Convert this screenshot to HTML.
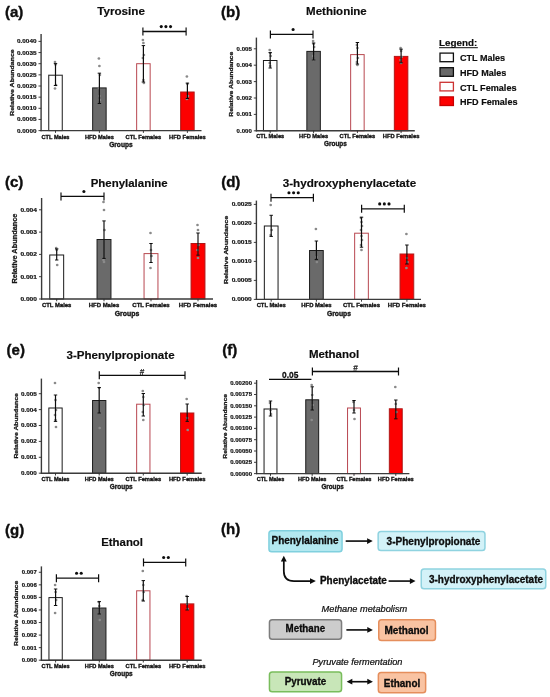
<!DOCTYPE html>
<html><head><meta charset="utf-8"><style>
html,body{margin:0;padding:0;background:#fff;}
svg{display:block;font-family:"Liberation Sans", sans-serif;}
</style></head><body>
<svg width="550" height="697" viewBox="0 0 550 697">
<defs><filter id="bl" filterUnits="userSpaceOnUse" x="0" y="0" width="550" height="697"><feGaussianBlur stdDeviation="0.3"/></filter></defs>
<rect width="550" height="697" fill="#fff"/>
<g filter="url(#bl)">
<rect x="48.75" y="75.20" width="13.50" height="55.40" fill="#ffffff" stroke="#1a1a1a" stroke-width="1.0"/>
<rect x="92.65" y="87.90" width="13.50" height="42.70" fill="#6a6a6a" stroke="#1e1e1e" stroke-width="1.0"/>
<rect x="136.65" y="63.70" width="13.50" height="66.90" fill="#ffffff" stroke="#b84850" stroke-width="1.0"/>
<rect x="180.65" y="92.00" width="13.50" height="38.60" fill="#fd0000" stroke="#b01818" stroke-width="1.0"/>
<circle cx="55.00" cy="62.00" r="1.35" fill="#8a8a8a"/>
<circle cx="55.50" cy="64.50" r="1.35" fill="#8a8a8a"/>
<circle cx="56.00" cy="85.00" r="1.35" fill="#8a8a8a"/>
<circle cx="55.00" cy="88.50" r="1.35" fill="#8a8a8a"/>
<line x1="55.50" y1="63.60" x2="55.50" y2="85.50" stroke="#111" stroke-width="1.2"/>
<line x1="53.80" y1="63.60" x2="57.20" y2="63.60" stroke="#111" stroke-width="1.0"/>
<line x1="53.80" y1="85.50" x2="57.20" y2="85.50" stroke="#111" stroke-width="1.0"/>
<circle cx="98.90" cy="58.50" r="1.35" fill="#8a8a8a"/>
<circle cx="99.40" cy="66.00" r="1.35" fill="#8a8a8a"/>
<circle cx="99.90" cy="75.00" r="1.35" fill="#8a8a8a"/>
<circle cx="98.90" cy="88.00" r="1.35" fill="#8a8a8a"/>
<circle cx="99.40" cy="96.00" r="1.35" fill="#8a8a8a"/>
<circle cx="99.90" cy="100.00" r="1.35" fill="#8a8a8a"/>
<line x1="99.40" y1="73.20" x2="99.40" y2="103.50" stroke="#111" stroke-width="1.2"/>
<line x1="97.70" y1="73.20" x2="101.10" y2="73.20" stroke="#111" stroke-width="1.0"/>
<line x1="97.70" y1="103.50" x2="101.10" y2="103.50" stroke="#111" stroke-width="1.0"/>
<circle cx="142.90" cy="40.00" r="1.35" fill="#8a8a8a"/>
<circle cx="143.40" cy="43.00" r="1.35" fill="#8a8a8a"/>
<circle cx="143.90" cy="55.00" r="1.35" fill="#8a8a8a"/>
<circle cx="142.90" cy="58.00" r="1.35" fill="#8a8a8a"/>
<circle cx="143.40" cy="80.00" r="1.35" fill="#8a8a8a"/>
<circle cx="143.90" cy="83.00" r="1.35" fill="#8a8a8a"/>
<line x1="143.40" y1="45.60" x2="143.40" y2="82.00" stroke="#111" stroke-width="1.2"/>
<line x1="141.70" y1="45.60" x2="145.10" y2="45.60" stroke="#111" stroke-width="1.0"/>
<line x1="141.70" y1="82.00" x2="145.10" y2="82.00" stroke="#111" stroke-width="1.0"/>
<circle cx="186.90" cy="76.50" r="1.35" fill="#8a8a8a"/>
<circle cx="187.40" cy="84.00" r="1.35" fill="#8a8a8a"/>
<circle cx="187.90" cy="96.00" r="1.35" fill="#8a8a8a"/>
<circle cx="186.90" cy="99.00" r="1.35" fill="#8a8a8a"/>
<line x1="187.40" y1="83.10" x2="187.40" y2="98.50" stroke="#111" stroke-width="1.2"/>
<line x1="185.70" y1="83.10" x2="189.10" y2="83.10" stroke="#111" stroke-width="1.0"/>
<line x1="185.70" y1="98.50" x2="189.10" y2="98.50" stroke="#111" stroke-width="1.0"/>
<line x1="41.10" y1="34.00" x2="41.10" y2="131.20" stroke="#3a3a3a" stroke-width="1.4"/>
<line x1="40.50" y1="130.60" x2="201.50" y2="130.60" stroke="#3a3a3a" stroke-width="1.4"/>
<line x1="38.50" y1="130.60" x2="41.10" y2="130.60" stroke="#2a2a2a" stroke-width="0.9"/>
<text x="17.00" y="132.55" font-size="5.9" font-weight="bold" text-anchor="start" fill="#151515" textLength="19.49" lengthAdjust="spacingAndGlyphs" stroke="#151515" stroke-width="0.2">0.0000</text>
<line x1="38.50" y1="119.45" x2="41.10" y2="119.45" stroke="#2a2a2a" stroke-width="0.9"/>
<text x="17.00" y="121.40" font-size="5.9" font-weight="bold" text-anchor="start" fill="#151515" textLength="19.49" lengthAdjust="spacingAndGlyphs" stroke="#151515" stroke-width="0.2">0.0005</text>
<line x1="38.50" y1="108.30" x2="41.10" y2="108.30" stroke="#2a2a2a" stroke-width="0.9"/>
<text x="17.00" y="110.25" font-size="5.9" font-weight="bold" text-anchor="start" fill="#151515" textLength="19.49" lengthAdjust="spacingAndGlyphs" stroke="#151515" stroke-width="0.2">0.0010</text>
<line x1="38.50" y1="97.15" x2="41.10" y2="97.15" stroke="#2a2a2a" stroke-width="0.9"/>
<text x="17.00" y="99.10" font-size="5.9" font-weight="bold" text-anchor="start" fill="#151515" textLength="19.49" lengthAdjust="spacingAndGlyphs" stroke="#151515" stroke-width="0.2">0.0015</text>
<line x1="38.50" y1="86.00" x2="41.10" y2="86.00" stroke="#2a2a2a" stroke-width="0.9"/>
<text x="17.00" y="87.95" font-size="5.9" font-weight="bold" text-anchor="start" fill="#151515" textLength="19.49" lengthAdjust="spacingAndGlyphs" stroke="#151515" stroke-width="0.2">0.0020</text>
<line x1="38.50" y1="74.85" x2="41.10" y2="74.85" stroke="#2a2a2a" stroke-width="0.9"/>
<text x="17.00" y="76.80" font-size="5.9" font-weight="bold" text-anchor="start" fill="#151515" textLength="19.49" lengthAdjust="spacingAndGlyphs" stroke="#151515" stroke-width="0.2">0.0025</text>
<line x1="38.50" y1="63.70" x2="41.10" y2="63.70" stroke="#2a2a2a" stroke-width="0.9"/>
<text x="17.00" y="65.65" font-size="5.9" font-weight="bold" text-anchor="start" fill="#151515" textLength="19.49" lengthAdjust="spacingAndGlyphs" stroke="#151515" stroke-width="0.2">0.0030</text>
<line x1="38.50" y1="52.55" x2="41.10" y2="52.55" stroke="#2a2a2a" stroke-width="0.9"/>
<text x="17.00" y="54.50" font-size="5.9" font-weight="bold" text-anchor="start" fill="#151515" textLength="19.49" lengthAdjust="spacingAndGlyphs" stroke="#151515" stroke-width="0.2">0.0035</text>
<line x1="38.50" y1="41.40" x2="41.10" y2="41.40" stroke="#2a2a2a" stroke-width="0.9"/>
<text x="17.00" y="43.35" font-size="5.9" font-weight="bold" text-anchor="start" fill="#151515" textLength="19.49" lengthAdjust="spacingAndGlyphs" stroke="#151515" stroke-width="0.2">0.0040</text>
<line x1="55.50" y1="130.60" x2="55.50" y2="132.90" stroke="#2a2a2a" stroke-width="0.9"/>
<text x="41.50" y="138.50" font-size="5.75" font-weight="bold" text-anchor="start" fill="#151515" textLength="27.99" lengthAdjust="spacingAndGlyphs" stroke="#151515" stroke-width="0.35">CTL Males</text>
<line x1="99.40" y1="130.60" x2="99.40" y2="132.90" stroke="#2a2a2a" stroke-width="0.9"/>
<text x="84.90" y="138.50" font-size="5.75" font-weight="bold" text-anchor="start" fill="#151515" textLength="29.01" lengthAdjust="spacingAndGlyphs" stroke="#151515" stroke-width="0.35">HFD Males</text>
<line x1="143.40" y1="130.60" x2="143.40" y2="132.90" stroke="#2a2a2a" stroke-width="0.9"/>
<text x="125.60" y="138.50" font-size="5.75" font-weight="bold" text-anchor="start" fill="#151515" textLength="35.61" lengthAdjust="spacingAndGlyphs" stroke="#151515" stroke-width="0.35">CTL Females</text>
<line x1="187.40" y1="130.60" x2="187.40" y2="132.90" stroke="#2a2a2a" stroke-width="0.9"/>
<text x="169.10" y="138.50" font-size="5.75" font-weight="bold" text-anchor="start" fill="#151515" textLength="36.60" lengthAdjust="spacingAndGlyphs" stroke="#151515" stroke-width="0.35">HFD Females</text>
<text x="109.15" y="146.60" font-size="6.5" font-weight="bold" text-anchor="start" fill="#151515" textLength="23.50" lengthAdjust="spacingAndGlyphs" stroke="#151515" stroke-width="0.35">Groups</text>
<text x="0.00" y="0.00" font-size="6.05" font-weight="bold" text-anchor="middle" fill="#151515" textLength="66.61" lengthAdjust="spacingAndGlyphs" stroke="#151515" stroke-width="0.25" transform="translate(13.80,82.60) rotate(-90)">Relative Abundance</text>
<line x1="142.90" y1="31.50" x2="186.10" y2="31.50" stroke="#111" stroke-width="1.3"/>
<line x1="142.90" y1="27.50" x2="142.90" y2="35.50" stroke="#111" stroke-width="1.2"/>
<line x1="186.10" y1="27.50" x2="186.10" y2="35.50" stroke="#111" stroke-width="1.2"/>
<circle cx="161.25" cy="26.60" r="1.55" fill="#111"/>
<circle cx="165.90" cy="26.60" r="1.55" fill="#111"/>
<circle cx="170.55" cy="26.60" r="1.55" fill="#111"/>
<text x="97.20" y="14.80" font-size="11.6" font-weight="bold" text-anchor="start" fill="#0a0a0a" textLength="47.79" lengthAdjust="spacingAndGlyphs" stroke="#0a0a0a" stroke-width="0.15">Tyrosine</text>
<text x="5.00" y="16.70" font-size="15" font-weight="bold" text-anchor="start" fill="#0a0a0a" stroke="#0a0a0a" stroke-width="0.35">(a)</text>
<rect x="263.45" y="60.50" width="13.50" height="70.30" fill="#ffffff" stroke="#1a1a1a" stroke-width="1.0"/>
<rect x="306.85" y="51.40" width="13.50" height="79.40" fill="#6a6a6a" stroke="#1e1e1e" stroke-width="1.0"/>
<rect x="350.65" y="54.60" width="13.50" height="76.20" fill="#ffffff" stroke="#b84850" stroke-width="1.0"/>
<rect x="394.35" y="56.40" width="13.50" height="74.40" fill="#fd0000" stroke="#b01818" stroke-width="1.0"/>
<circle cx="269.70" cy="50.00" r="1.35" fill="#8a8a8a"/>
<circle cx="270.20" cy="53.00" r="1.35" fill="#8a8a8a"/>
<circle cx="270.70" cy="56.00" r="1.35" fill="#8a8a8a"/>
<circle cx="269.70" cy="63.00" r="1.35" fill="#8a8a8a"/>
<circle cx="270.20" cy="66.00" r="1.35" fill="#8a8a8a"/>
<line x1="270.20" y1="52.60" x2="270.20" y2="68.00" stroke="#111" stroke-width="1.2"/>
<line x1="268.50" y1="52.60" x2="271.90" y2="52.60" stroke="#111" stroke-width="1.0"/>
<line x1="268.50" y1="68.00" x2="271.90" y2="68.00" stroke="#111" stroke-width="1.0"/>
<circle cx="313.10" cy="41.00" r="1.35" fill="#8a8a8a"/>
<circle cx="313.60" cy="44.00" r="1.35" fill="#8a8a8a"/>
<circle cx="314.10" cy="47.00" r="1.35" fill="#8a8a8a"/>
<circle cx="313.10" cy="56.00" r="1.35" fill="#8a8a8a"/>
<circle cx="313.60" cy="60.00" r="1.35" fill="#8a8a8a"/>
<line x1="313.60" y1="43.00" x2="313.60" y2="60.00" stroke="#111" stroke-width="1.2"/>
<line x1="311.90" y1="43.00" x2="315.30" y2="43.00" stroke="#111" stroke-width="1.0"/>
<line x1="311.90" y1="60.00" x2="315.30" y2="60.00" stroke="#111" stroke-width="1.0"/>
<circle cx="356.90" cy="45.00" r="1.35" fill="#8a8a8a"/>
<circle cx="357.40" cy="48.00" r="1.35" fill="#8a8a8a"/>
<circle cx="357.90" cy="58.00" r="1.35" fill="#8a8a8a"/>
<circle cx="356.90" cy="62.00" r="1.35" fill="#8a8a8a"/>
<circle cx="357.40" cy="65.00" r="1.35" fill="#8a8a8a"/>
<line x1="357.40" y1="42.50" x2="357.40" y2="64.00" stroke="#111" stroke-width="1.2"/>
<line x1="355.70" y1="42.50" x2="359.10" y2="42.50" stroke="#111" stroke-width="1.0"/>
<line x1="355.70" y1="64.00" x2="359.10" y2="64.00" stroke="#111" stroke-width="1.0"/>
<circle cx="400.60" cy="48.00" r="1.35" fill="#8a8a8a"/>
<circle cx="401.10" cy="51.00" r="1.35" fill="#8a8a8a"/>
<circle cx="401.60" cy="57.00" r="1.35" fill="#8a8a8a"/>
<circle cx="400.60" cy="60.00" r="1.35" fill="#8a8a8a"/>
<circle cx="401.10" cy="63.00" r="1.35" fill="#8a8a8a"/>
<line x1="401.10" y1="49.20" x2="401.10" y2="62.80" stroke="#111" stroke-width="1.2"/>
<line x1="399.40" y1="49.20" x2="402.80" y2="49.20" stroke="#111" stroke-width="1.0"/>
<line x1="399.40" y1="62.80" x2="402.80" y2="62.80" stroke="#111" stroke-width="1.0"/>
<line x1="256.40" y1="37.60" x2="256.40" y2="131.40" stroke="#3a3a3a" stroke-width="1.4"/>
<line x1="255.80" y1="130.80" x2="414.80" y2="130.80" stroke="#3a3a3a" stroke-width="1.4"/>
<line x1="253.80" y1="130.80" x2="256.40" y2="130.80" stroke="#2a2a2a" stroke-width="0.9"/>
<text x="236.60" y="132.75" font-size="5.9" font-weight="bold" text-anchor="start" fill="#151515" textLength="15.18" lengthAdjust="spacingAndGlyphs" stroke="#151515" stroke-width="0.2">0.000</text>
<line x1="253.80" y1="114.40" x2="256.40" y2="114.40" stroke="#2a2a2a" stroke-width="0.9"/>
<text x="236.60" y="116.35" font-size="5.9" font-weight="bold" text-anchor="start" fill="#151515" textLength="15.18" lengthAdjust="spacingAndGlyphs" stroke="#151515" stroke-width="0.2">0.001</text>
<line x1="253.80" y1="98.00" x2="256.40" y2="98.00" stroke="#2a2a2a" stroke-width="0.9"/>
<text x="236.60" y="99.95" font-size="5.9" font-weight="bold" text-anchor="start" fill="#151515" textLength="15.18" lengthAdjust="spacingAndGlyphs" stroke="#151515" stroke-width="0.2">0.002</text>
<line x1="253.80" y1="81.60" x2="256.40" y2="81.60" stroke="#2a2a2a" stroke-width="0.9"/>
<text x="236.60" y="83.55" font-size="5.9" font-weight="bold" text-anchor="start" fill="#151515" textLength="15.18" lengthAdjust="spacingAndGlyphs" stroke="#151515" stroke-width="0.2">0.003</text>
<line x1="253.80" y1="65.20" x2="256.40" y2="65.20" stroke="#2a2a2a" stroke-width="0.9"/>
<text x="236.60" y="67.15" font-size="5.9" font-weight="bold" text-anchor="start" fill="#151515" textLength="15.18" lengthAdjust="spacingAndGlyphs" stroke="#151515" stroke-width="0.2">0.004</text>
<line x1="253.80" y1="48.80" x2="256.40" y2="48.80" stroke="#2a2a2a" stroke-width="0.9"/>
<text x="236.60" y="50.75" font-size="5.9" font-weight="bold" text-anchor="start" fill="#151515" textLength="15.18" lengthAdjust="spacingAndGlyphs" stroke="#151515" stroke-width="0.2">0.005</text>
<line x1="270.20" y1="130.80" x2="270.20" y2="133.10" stroke="#2a2a2a" stroke-width="0.9"/>
<text x="256.20" y="138.30" font-size="5.75" font-weight="bold" text-anchor="start" fill="#151515" textLength="27.99" lengthAdjust="spacingAndGlyphs" stroke="#151515" stroke-width="0.35">CTL Males</text>
<line x1="313.60" y1="130.80" x2="313.60" y2="133.10" stroke="#2a2a2a" stroke-width="0.9"/>
<text x="299.10" y="138.30" font-size="5.75" font-weight="bold" text-anchor="start" fill="#151515" textLength="29.01" lengthAdjust="spacingAndGlyphs" stroke="#151515" stroke-width="0.35">HFD Males</text>
<line x1="357.40" y1="130.80" x2="357.40" y2="133.10" stroke="#2a2a2a" stroke-width="0.9"/>
<text x="339.60" y="138.30" font-size="5.75" font-weight="bold" text-anchor="start" fill="#151515" textLength="35.61" lengthAdjust="spacingAndGlyphs" stroke="#151515" stroke-width="0.35">CTL Females</text>
<line x1="401.10" y1="130.80" x2="401.10" y2="133.10" stroke="#2a2a2a" stroke-width="0.9"/>
<text x="382.80" y="138.30" font-size="5.75" font-weight="bold" text-anchor="start" fill="#151515" textLength="36.60" lengthAdjust="spacingAndGlyphs" stroke="#151515" stroke-width="0.35">HFD Females</text>
<text x="324.00" y="145.90" font-size="6.5" font-weight="bold" text-anchor="start" fill="#151515" textLength="22.80" lengthAdjust="spacingAndGlyphs" stroke="#151515" stroke-width="0.35">Groups</text>
<text x="0.00" y="0.00" font-size="5.91" font-weight="bold" text-anchor="middle" fill="#151515" textLength="65.01" lengthAdjust="spacingAndGlyphs" stroke="#151515" stroke-width="0.25" transform="translate(233.00,84.30) rotate(-90)">Relative Abundance</text>
<line x1="270.40" y1="34.40" x2="313.00" y2="34.40" stroke="#111" stroke-width="1.3"/>
<line x1="270.40" y1="30.40" x2="270.40" y2="38.40" stroke="#111" stroke-width="1.2"/>
<line x1="313.00" y1="30.40" x2="313.00" y2="38.40" stroke="#111" stroke-width="1.2"/>
<circle cx="293.10" cy="29.50" r="1.55" fill="#111"/>
<text x="306.10" y="14.60" font-size="11.6" font-weight="bold" text-anchor="start" fill="#0a0a0a" textLength="60.67" lengthAdjust="spacingAndGlyphs" stroke="#0a0a0a" stroke-width="0.15">Methionine</text>
<text x="221.00" y="16.70" font-size="15" font-weight="bold" text-anchor="start" fill="#0a0a0a" stroke="#0a0a0a" stroke-width="0.35">(b)</text>
<rect x="49.75" y="255.00" width="13.90" height="44.00" fill="#ffffff" stroke="#1a1a1a" stroke-width="1.0"/>
<rect x="97.05" y="239.50" width="13.90" height="59.50" fill="#6a6a6a" stroke="#1e1e1e" stroke-width="1.0"/>
<rect x="144.05" y="253.60" width="13.90" height="45.40" fill="#ffffff" stroke="#b84850" stroke-width="1.0"/>
<rect x="191.05" y="243.50" width="13.90" height="55.50" fill="#fd0000" stroke="#b01818" stroke-width="1.0"/>
<circle cx="56.20" cy="248.00" r="1.35" fill="#8a8a8a"/>
<circle cx="56.70" cy="250.00" r="1.35" fill="#8a8a8a"/>
<circle cx="57.20" cy="265.00" r="1.35" fill="#8a8a8a"/>
<line x1="56.70" y1="248.90" x2="56.70" y2="260.00" stroke="#111" stroke-width="1.2"/>
<line x1="55.00" y1="248.90" x2="58.40" y2="248.90" stroke="#111" stroke-width="1.0"/>
<line x1="55.00" y1="260.00" x2="58.40" y2="260.00" stroke="#111" stroke-width="1.0"/>
<circle cx="103.50" cy="202.00" r="1.35" fill="#8a8a8a"/>
<circle cx="104.00" cy="210.00" r="1.35" fill="#8a8a8a"/>
<circle cx="104.50" cy="230.00" r="1.35" fill="#8a8a8a"/>
<circle cx="103.50" cy="260.00" r="1.35" fill="#8a8a8a"/>
<circle cx="104.00" cy="262.00" r="1.35" fill="#8a8a8a"/>
<line x1="104.00" y1="220.90" x2="104.00" y2="258.40" stroke="#111" stroke-width="1.2"/>
<line x1="102.30" y1="220.90" x2="105.70" y2="220.90" stroke="#111" stroke-width="1.0"/>
<line x1="102.30" y1="258.40" x2="105.70" y2="258.40" stroke="#111" stroke-width="1.0"/>
<circle cx="150.50" cy="233.00" r="1.35" fill="#8a8a8a"/>
<circle cx="151.00" cy="250.00" r="1.35" fill="#8a8a8a"/>
<circle cx="151.50" cy="256.00" r="1.35" fill="#8a8a8a"/>
<circle cx="150.50" cy="268.00" r="1.35" fill="#8a8a8a"/>
<line x1="151.00" y1="243.50" x2="151.00" y2="262.50" stroke="#111" stroke-width="1.2"/>
<line x1="149.30" y1="243.50" x2="152.70" y2="243.50" stroke="#111" stroke-width="1.0"/>
<line x1="149.30" y1="262.50" x2="152.70" y2="262.50" stroke="#111" stroke-width="1.0"/>
<circle cx="197.50" cy="225.00" r="1.35" fill="#8a8a8a"/>
<circle cx="198.00" cy="230.00" r="1.35" fill="#8a8a8a"/>
<circle cx="198.50" cy="245.00" r="1.35" fill="#8a8a8a"/>
<circle cx="197.50" cy="250.00" r="1.35" fill="#8a8a8a"/>
<circle cx="198.00" cy="258.00" r="1.35" fill="#8a8a8a"/>
<line x1="198.00" y1="233.00" x2="198.00" y2="255.20" stroke="#111" stroke-width="1.2"/>
<line x1="196.30" y1="233.00" x2="199.70" y2="233.00" stroke="#111" stroke-width="1.0"/>
<line x1="196.30" y1="255.20" x2="199.70" y2="255.20" stroke="#111" stroke-width="1.0"/>
<line x1="41.60" y1="198.00" x2="41.60" y2="299.60" stroke="#3a3a3a" stroke-width="1.4"/>
<line x1="41.00" y1="299.00" x2="213.00" y2="299.00" stroke="#3a3a3a" stroke-width="1.4"/>
<line x1="39.00" y1="299.00" x2="41.60" y2="299.00" stroke="#2a2a2a" stroke-width="0.9"/>
<text x="20.40" y="300.95" font-size="5.9" font-weight="bold" text-anchor="start" fill="#151515" textLength="16.58" lengthAdjust="spacingAndGlyphs" stroke="#151515" stroke-width="0.2">0.000</text>
<line x1="39.00" y1="276.70" x2="41.60" y2="276.70" stroke="#2a2a2a" stroke-width="0.9"/>
<text x="20.40" y="278.65" font-size="5.9" font-weight="bold" text-anchor="start" fill="#151515" textLength="16.58" lengthAdjust="spacingAndGlyphs" stroke="#151515" stroke-width="0.2">0.001</text>
<line x1="39.00" y1="254.40" x2="41.60" y2="254.40" stroke="#2a2a2a" stroke-width="0.9"/>
<text x="20.40" y="256.35" font-size="5.9" font-weight="bold" text-anchor="start" fill="#151515" textLength="16.58" lengthAdjust="spacingAndGlyphs" stroke="#151515" stroke-width="0.2">0.002</text>
<line x1="39.00" y1="232.10" x2="41.60" y2="232.10" stroke="#2a2a2a" stroke-width="0.9"/>
<text x="20.40" y="234.05" font-size="5.9" font-weight="bold" text-anchor="start" fill="#151515" textLength="16.58" lengthAdjust="spacingAndGlyphs" stroke="#151515" stroke-width="0.2">0.003</text>
<line x1="39.00" y1="209.80" x2="41.60" y2="209.80" stroke="#2a2a2a" stroke-width="0.9"/>
<text x="20.40" y="211.75" font-size="5.9" font-weight="bold" text-anchor="start" fill="#151515" textLength="16.58" lengthAdjust="spacingAndGlyphs" stroke="#151515" stroke-width="0.2">0.004</text>
<line x1="56.70" y1="299.00" x2="56.70" y2="301.30" stroke="#2a2a2a" stroke-width="0.9"/>
<text x="42.00" y="307.30" font-size="6.0375000000000005" font-weight="bold" text-anchor="start" fill="#151515" textLength="29.39" lengthAdjust="spacingAndGlyphs" stroke="#151515" stroke-width="0.35">CTL Males</text>
<line x1="104.00" y1="299.00" x2="104.00" y2="301.30" stroke="#2a2a2a" stroke-width="0.9"/>
<text x="88.78" y="307.30" font-size="6.0375000000000005" font-weight="bold" text-anchor="start" fill="#151515" textLength="30.46" lengthAdjust="spacingAndGlyphs" stroke="#151515" stroke-width="0.35">HFD Males</text>
<line x1="151.00" y1="299.00" x2="151.00" y2="301.30" stroke="#2a2a2a" stroke-width="0.9"/>
<text x="132.31" y="307.30" font-size="6.0375000000000005" font-weight="bold" text-anchor="start" fill="#151515" textLength="37.39" lengthAdjust="spacingAndGlyphs" stroke="#151515" stroke-width="0.35">CTL Females</text>
<line x1="198.00" y1="299.00" x2="198.00" y2="301.30" stroke="#2a2a2a" stroke-width="0.9"/>
<text x="178.78" y="307.30" font-size="6.0375000000000005" font-weight="bold" text-anchor="start" fill="#151515" textLength="38.43" lengthAdjust="spacingAndGlyphs" stroke="#151515" stroke-width="0.35">HFD Females</text>
<text x="114.75" y="315.50" font-size="6.5" font-weight="bold" text-anchor="start" fill="#151515" textLength="24.50" lengthAdjust="spacingAndGlyphs" stroke="#151515" stroke-width="0.35">Groups</text>
<text x="0.00" y="0.00" font-size="6.36" font-weight="bold" text-anchor="middle" fill="#151515" textLength="70.01" lengthAdjust="spacingAndGlyphs" stroke="#151515" stroke-width="0.25" transform="translate(16.70,248.60) rotate(-90)">Relative Abundance</text>
<line x1="61.00" y1="196.40" x2="104.00" y2="196.40" stroke="#111" stroke-width="1.3"/>
<line x1="61.00" y1="192.40" x2="61.00" y2="200.40" stroke="#111" stroke-width="1.2"/>
<line x1="104.00" y1="192.40" x2="104.00" y2="200.40" stroke="#111" stroke-width="1.2"/>
<circle cx="83.90" cy="191.50" r="1.55" fill="#111"/>
<text x="90.70" y="187.10" font-size="11.6" font-weight="bold" text-anchor="start" fill="#0a0a0a" textLength="77.00" lengthAdjust="spacingAndGlyphs" stroke="#0a0a0a" stroke-width="0.15">Phenylalanine</text>
<text x="5.00" y="186.80" font-size="15" font-weight="bold" text-anchor="start" fill="#0a0a0a" stroke="#0a0a0a" stroke-width="0.35">(c)</text>
<rect x="264.35" y="226.00" width="13.70" height="73.40" fill="#ffffff" stroke="#1a1a1a" stroke-width="1.0"/>
<rect x="309.55" y="250.50" width="13.70" height="48.90" fill="#6a6a6a" stroke="#1e1e1e" stroke-width="1.0"/>
<rect x="354.65" y="233.20" width="13.70" height="66.20" fill="#ffffff" stroke="#b84850" stroke-width="1.0"/>
<rect x="400.05" y="254.00" width="13.70" height="45.40" fill="#fd0000" stroke="#b01818" stroke-width="1.0"/>
<circle cx="270.70" cy="205.00" r="1.35" fill="#8a8a8a"/>
<circle cx="271.20" cy="226.00" r="1.35" fill="#8a8a8a"/>
<circle cx="271.70" cy="230.00" r="1.35" fill="#8a8a8a"/>
<circle cx="270.70" cy="235.00" r="1.35" fill="#8a8a8a"/>
<line x1="271.20" y1="215.30" x2="271.20" y2="236.40" stroke="#111" stroke-width="1.2"/>
<line x1="269.50" y1="215.30" x2="272.90" y2="215.30" stroke="#111" stroke-width="1.0"/>
<line x1="269.50" y1="236.40" x2="272.90" y2="236.40" stroke="#111" stroke-width="1.0"/>
<circle cx="315.90" cy="229.00" r="1.35" fill="#8a8a8a"/>
<circle cx="316.40" cy="257.00" r="1.35" fill="#8a8a8a"/>
<circle cx="316.90" cy="262.00" r="1.35" fill="#8a8a8a"/>
<line x1="316.40" y1="241.00" x2="316.40" y2="259.60" stroke="#111" stroke-width="1.2"/>
<line x1="314.70" y1="241.00" x2="318.10" y2="241.00" stroke="#111" stroke-width="1.0"/>
<line x1="314.70" y1="259.60" x2="318.10" y2="259.60" stroke="#111" stroke-width="1.0"/>
<circle cx="361.00" cy="218.00" r="1.35" fill="#8a8a8a"/>
<circle cx="361.50" cy="222.00" r="1.35" fill="#8a8a8a"/>
<circle cx="362.00" cy="226.00" r="1.35" fill="#8a8a8a"/>
<circle cx="361.00" cy="230.00" r="1.35" fill="#8a8a8a"/>
<circle cx="361.50" cy="236.00" r="1.35" fill="#8a8a8a"/>
<circle cx="362.00" cy="240.00" r="1.35" fill="#8a8a8a"/>
<circle cx="361.00" cy="245.00" r="1.35" fill="#8a8a8a"/>
<circle cx="361.50" cy="250.00" r="1.35" fill="#8a8a8a"/>
<line x1="361.50" y1="217.20" x2="361.50" y2="247.20" stroke="#111" stroke-width="1.2"/>
<line x1="359.80" y1="217.20" x2="363.20" y2="217.20" stroke="#111" stroke-width="1.0"/>
<line x1="359.80" y1="247.20" x2="363.20" y2="247.20" stroke="#111" stroke-width="1.0"/>
<circle cx="406.40" cy="234.00" r="1.35" fill="#8a8a8a"/>
<circle cx="406.90" cy="258.00" r="1.35" fill="#8a8a8a"/>
<circle cx="407.40" cy="262.00" r="1.35" fill="#8a8a8a"/>
<circle cx="406.40" cy="268.00" r="1.35" fill="#8a8a8a"/>
<line x1="406.90" y1="245.00" x2="406.90" y2="264.00" stroke="#111" stroke-width="1.2"/>
<line x1="405.20" y1="245.00" x2="408.60" y2="245.00" stroke="#111" stroke-width="1.0"/>
<line x1="405.20" y1="264.00" x2="408.60" y2="264.00" stroke="#111" stroke-width="1.0"/>
<line x1="256.40" y1="200.60" x2="256.40" y2="300.00" stroke="#3a3a3a" stroke-width="1.4"/>
<line x1="255.80" y1="299.40" x2="421.00" y2="299.40" stroke="#3a3a3a" stroke-width="1.4"/>
<line x1="253.80" y1="299.40" x2="256.40" y2="299.40" stroke="#2a2a2a" stroke-width="0.9"/>
<text x="231.70" y="301.35" font-size="5.9" font-weight="bold" text-anchor="start" fill="#151515" textLength="20.09" lengthAdjust="spacingAndGlyphs" stroke="#151515" stroke-width="0.2">0.0000</text>
<line x1="253.80" y1="280.40" x2="256.40" y2="280.40" stroke="#2a2a2a" stroke-width="0.9"/>
<text x="231.70" y="282.35" font-size="5.9" font-weight="bold" text-anchor="start" fill="#151515" textLength="20.09" lengthAdjust="spacingAndGlyphs" stroke="#151515" stroke-width="0.2">0.0005</text>
<line x1="253.80" y1="261.40" x2="256.40" y2="261.40" stroke="#2a2a2a" stroke-width="0.9"/>
<text x="231.70" y="263.35" font-size="5.9" font-weight="bold" text-anchor="start" fill="#151515" textLength="20.09" lengthAdjust="spacingAndGlyphs" stroke="#151515" stroke-width="0.2">0.0010</text>
<line x1="253.80" y1="242.40" x2="256.40" y2="242.40" stroke="#2a2a2a" stroke-width="0.9"/>
<text x="231.70" y="244.35" font-size="5.9" font-weight="bold" text-anchor="start" fill="#151515" textLength="20.09" lengthAdjust="spacingAndGlyphs" stroke="#151515" stroke-width="0.2">0.0015</text>
<line x1="253.80" y1="223.40" x2="256.40" y2="223.40" stroke="#2a2a2a" stroke-width="0.9"/>
<text x="231.70" y="225.35" font-size="5.9" font-weight="bold" text-anchor="start" fill="#151515" textLength="20.09" lengthAdjust="spacingAndGlyphs" stroke="#151515" stroke-width="0.2">0.0020</text>
<line x1="253.80" y1="204.40" x2="256.40" y2="204.40" stroke="#2a2a2a" stroke-width="0.9"/>
<text x="231.70" y="206.35" font-size="5.9" font-weight="bold" text-anchor="start" fill="#151515" textLength="20.09" lengthAdjust="spacingAndGlyphs" stroke="#151515" stroke-width="0.2">0.0025</text>
<line x1="271.20" y1="299.40" x2="271.20" y2="301.70" stroke="#2a2a2a" stroke-width="0.9"/>
<text x="256.64" y="307.30" font-size="5.98" font-weight="bold" text-anchor="start" fill="#151515" textLength="29.11" lengthAdjust="spacingAndGlyphs" stroke="#151515" stroke-width="0.35">CTL Males</text>
<line x1="316.40" y1="299.40" x2="316.40" y2="301.70" stroke="#2a2a2a" stroke-width="0.9"/>
<text x="301.32" y="307.30" font-size="5.98" font-weight="bold" text-anchor="start" fill="#151515" textLength="30.17" lengthAdjust="spacingAndGlyphs" stroke="#151515" stroke-width="0.35">HFD Males</text>
<line x1="361.50" y1="299.40" x2="361.50" y2="301.70" stroke="#2a2a2a" stroke-width="0.9"/>
<text x="342.99" y="307.30" font-size="5.98" font-weight="bold" text-anchor="start" fill="#151515" textLength="37.03" lengthAdjust="spacingAndGlyphs" stroke="#151515" stroke-width="0.35">CTL Females</text>
<line x1="406.90" y1="299.40" x2="406.90" y2="301.70" stroke="#2a2a2a" stroke-width="0.9"/>
<text x="387.87" y="307.30" font-size="5.98" font-weight="bold" text-anchor="start" fill="#151515" textLength="38.07" lengthAdjust="spacingAndGlyphs" stroke="#151515" stroke-width="0.35">HFD Females</text>
<text x="326.95" y="315.50" font-size="6.5" font-weight="bold" text-anchor="start" fill="#151515" textLength="24.10" lengthAdjust="spacingAndGlyphs" stroke="#151515" stroke-width="0.35">Groups</text>
<text x="0.00" y="0.00" font-size="6.22" font-weight="bold" text-anchor="middle" fill="#151515" textLength="68.41" lengthAdjust="spacingAndGlyphs" stroke="#151515" stroke-width="0.25" transform="translate(228.30,249.90) rotate(-90)">Relative Abundance</text>
<line x1="271.00" y1="197.70" x2="313.40" y2="197.70" stroke="#111" stroke-width="1.3"/>
<line x1="271.00" y1="193.70" x2="271.00" y2="201.70" stroke="#111" stroke-width="1.2"/>
<line x1="313.40" y1="193.70" x2="313.40" y2="201.70" stroke="#111" stroke-width="1.2"/>
<circle cx="288.95" cy="192.80" r="1.55" fill="#111"/>
<circle cx="293.60" cy="192.80" r="1.55" fill="#111"/>
<circle cx="298.25" cy="192.80" r="1.55" fill="#111"/>
<line x1="361.60" y1="208.80" x2="404.30" y2="208.80" stroke="#111" stroke-width="1.3"/>
<line x1="361.60" y1="204.80" x2="361.60" y2="212.80" stroke="#111" stroke-width="1.2"/>
<line x1="404.30" y1="204.80" x2="404.30" y2="212.80" stroke="#111" stroke-width="1.2"/>
<circle cx="379.70" cy="203.90" r="1.55" fill="#111"/>
<circle cx="384.35" cy="203.90" r="1.55" fill="#111"/>
<circle cx="389.00" cy="203.90" r="1.55" fill="#111"/>
<text x="282.70" y="186.80" font-size="11.6" font-weight="bold" text-anchor="start" fill="#0a0a0a" textLength="133.49" lengthAdjust="spacingAndGlyphs" stroke="#0a0a0a" stroke-width="0.15">3-hydroxyphenylacetate</text>
<text x="221.20" y="187.00" font-size="15" font-weight="bold" text-anchor="start" fill="#0a0a0a" stroke="#0a0a0a" stroke-width="0.35">(d)</text>
<rect x="48.85" y="408.00" width="13.30" height="65.20" fill="#ffffff" stroke="#1a1a1a" stroke-width="1.0"/>
<rect x="92.55" y="400.50" width="13.30" height="72.70" fill="#6a6a6a" stroke="#1e1e1e" stroke-width="1.0"/>
<rect x="136.65" y="404.20" width="13.30" height="69.00" fill="#ffffff" stroke="#b84850" stroke-width="1.0"/>
<rect x="180.55" y="413.00" width="13.30" height="60.20" fill="#fd0000" stroke="#b01818" stroke-width="1.0"/>
<circle cx="55.00" cy="383.00" r="1.35" fill="#8a8a8a"/>
<circle cx="55.50" cy="400.00" r="1.35" fill="#8a8a8a"/>
<circle cx="56.00" cy="410.00" r="1.35" fill="#8a8a8a"/>
<circle cx="55.00" cy="415.00" r="1.35" fill="#8a8a8a"/>
<circle cx="55.50" cy="420.00" r="1.35" fill="#8a8a8a"/>
<circle cx="56.00" cy="427.00" r="1.35" fill="#8a8a8a"/>
<line x1="55.50" y1="395.00" x2="55.50" y2="421.40" stroke="#111" stroke-width="1.2"/>
<line x1="53.80" y1="395.00" x2="57.20" y2="395.00" stroke="#111" stroke-width="1.0"/>
<line x1="53.80" y1="421.40" x2="57.20" y2="421.40" stroke="#111" stroke-width="1.0"/>
<circle cx="98.70" cy="383.00" r="1.35" fill="#8a8a8a"/>
<circle cx="99.20" cy="388.00" r="1.35" fill="#8a8a8a"/>
<circle cx="99.70" cy="428.00" r="1.35" fill="#8a8a8a"/>
<line x1="99.20" y1="387.50" x2="99.20" y2="413.00" stroke="#111" stroke-width="1.2"/>
<line x1="97.50" y1="387.50" x2="100.90" y2="387.50" stroke="#111" stroke-width="1.0"/>
<line x1="97.50" y1="413.00" x2="100.90" y2="413.00" stroke="#111" stroke-width="1.0"/>
<circle cx="142.80" cy="391.00" r="1.35" fill="#8a8a8a"/>
<circle cx="143.30" cy="397.00" r="1.35" fill="#8a8a8a"/>
<circle cx="143.80" cy="405.00" r="1.35" fill="#8a8a8a"/>
<circle cx="142.80" cy="412.00" r="1.35" fill="#8a8a8a"/>
<circle cx="143.30" cy="420.00" r="1.35" fill="#8a8a8a"/>
<line x1="143.30" y1="393.50" x2="143.30" y2="416.00" stroke="#111" stroke-width="1.2"/>
<line x1="141.60" y1="393.50" x2="145.00" y2="393.50" stroke="#111" stroke-width="1.0"/>
<line x1="141.60" y1="416.00" x2="145.00" y2="416.00" stroke="#111" stroke-width="1.0"/>
<circle cx="186.70" cy="399.00" r="1.35" fill="#8a8a8a"/>
<circle cx="187.20" cy="418.00" r="1.35" fill="#8a8a8a"/>
<circle cx="187.70" cy="430.00" r="1.35" fill="#8a8a8a"/>
<line x1="187.20" y1="404.00" x2="187.20" y2="421.40" stroke="#111" stroke-width="1.2"/>
<line x1="185.50" y1="404.00" x2="188.90" y2="404.00" stroke="#111" stroke-width="1.0"/>
<line x1="185.50" y1="421.40" x2="188.90" y2="421.40" stroke="#111" stroke-width="1.0"/>
<line x1="41.40" y1="378.60" x2="41.40" y2="473.80" stroke="#3a3a3a" stroke-width="1.4"/>
<line x1="40.80" y1="473.20" x2="201.70" y2="473.20" stroke="#3a3a3a" stroke-width="1.4"/>
<line x1="38.80" y1="473.20" x2="41.40" y2="473.20" stroke="#2a2a2a" stroke-width="0.9"/>
<text x="21.00" y="475.15" font-size="5.9" font-weight="bold" text-anchor="start" fill="#151515" textLength="15.78" lengthAdjust="spacingAndGlyphs" stroke="#151515" stroke-width="0.2">0.000</text>
<line x1="38.80" y1="457.30" x2="41.40" y2="457.30" stroke="#2a2a2a" stroke-width="0.9"/>
<text x="21.00" y="459.25" font-size="5.9" font-weight="bold" text-anchor="start" fill="#151515" textLength="15.78" lengthAdjust="spacingAndGlyphs" stroke="#151515" stroke-width="0.2">0.001</text>
<line x1="38.80" y1="441.40" x2="41.40" y2="441.40" stroke="#2a2a2a" stroke-width="0.9"/>
<text x="21.00" y="443.35" font-size="5.9" font-weight="bold" text-anchor="start" fill="#151515" textLength="15.78" lengthAdjust="spacingAndGlyphs" stroke="#151515" stroke-width="0.2">0.002</text>
<line x1="38.80" y1="425.50" x2="41.40" y2="425.50" stroke="#2a2a2a" stroke-width="0.9"/>
<text x="21.00" y="427.45" font-size="5.9" font-weight="bold" text-anchor="start" fill="#151515" textLength="15.78" lengthAdjust="spacingAndGlyphs" stroke="#151515" stroke-width="0.2">0.003</text>
<line x1="38.80" y1="409.60" x2="41.40" y2="409.60" stroke="#2a2a2a" stroke-width="0.9"/>
<text x="21.00" y="411.55" font-size="5.9" font-weight="bold" text-anchor="start" fill="#151515" textLength="15.78" lengthAdjust="spacingAndGlyphs" stroke="#151515" stroke-width="0.2">0.004</text>
<line x1="38.80" y1="393.70" x2="41.40" y2="393.70" stroke="#2a2a2a" stroke-width="0.9"/>
<text x="21.00" y="395.65" font-size="5.9" font-weight="bold" text-anchor="start" fill="#151515" textLength="15.78" lengthAdjust="spacingAndGlyphs" stroke="#151515" stroke-width="0.2">0.005</text>
<line x1="55.50" y1="473.20" x2="55.50" y2="475.50" stroke="#2a2a2a" stroke-width="0.9"/>
<text x="41.50" y="481.10" font-size="5.75" font-weight="bold" text-anchor="start" fill="#151515" textLength="27.99" lengthAdjust="spacingAndGlyphs" stroke="#151515" stroke-width="0.35">CTL Males</text>
<line x1="99.20" y1="473.20" x2="99.20" y2="475.50" stroke="#2a2a2a" stroke-width="0.9"/>
<text x="84.70" y="481.10" font-size="5.75" font-weight="bold" text-anchor="start" fill="#151515" textLength="29.01" lengthAdjust="spacingAndGlyphs" stroke="#151515" stroke-width="0.35">HFD Males</text>
<line x1="143.30" y1="473.20" x2="143.30" y2="475.50" stroke="#2a2a2a" stroke-width="0.9"/>
<text x="125.50" y="481.10" font-size="5.75" font-weight="bold" text-anchor="start" fill="#151515" textLength="35.61" lengthAdjust="spacingAndGlyphs" stroke="#151515" stroke-width="0.35">CTL Females</text>
<line x1="187.20" y1="473.20" x2="187.20" y2="475.50" stroke="#2a2a2a" stroke-width="0.9"/>
<text x="168.90" y="481.10" font-size="5.75" font-weight="bold" text-anchor="start" fill="#151515" textLength="36.60" lengthAdjust="spacingAndGlyphs" stroke="#151515" stroke-width="0.35">HFD Females</text>
<text x="109.70" y="488.80" font-size="6.5" font-weight="bold" text-anchor="start" fill="#151515" textLength="23.00" lengthAdjust="spacingAndGlyphs" stroke="#151515" stroke-width="0.35">Groups</text>
<text x="0.00" y="0.00" font-size="5.95" font-weight="bold" text-anchor="middle" fill="#151515" textLength="65.41" lengthAdjust="spacingAndGlyphs" stroke="#151515" stroke-width="0.25" transform="translate(18.10,425.90) rotate(-90)">Relative Abundance</text>
<line x1="99.30" y1="375.30" x2="185.00" y2="375.30" stroke="#111" stroke-width="1.3"/>
<line x1="99.30" y1="371.30" x2="99.30" y2="379.30" stroke="#111" stroke-width="1.2"/>
<line x1="185.00" y1="371.30" x2="185.00" y2="379.30" stroke="#111" stroke-width="1.2"/>
<text x="139.85" y="374.80" font-size="8.6" font-weight="bold" text-anchor="start" fill="#111" textLength="4.61" lengthAdjust="spacingAndGlyphs" stroke="#111" stroke-width="0.1">#</text>
<text x="66.50" y="358.80" font-size="11.6" font-weight="bold" text-anchor="start" fill="#0a0a0a" textLength="108.10" lengthAdjust="spacingAndGlyphs" stroke="#0a0a0a" stroke-width="0.15">3-Phenylpropionate</text>
<text x="6.60" y="354.50" font-size="15" font-weight="bold" text-anchor="start" fill="#0a0a0a" stroke="#0a0a0a" stroke-width="0.35">(e)</text>
<rect x="264.05" y="409.00" width="12.90" height="64.60" fill="#ffffff" stroke="#1a1a1a" stroke-width="1.0"/>
<rect x="305.75" y="399.80" width="12.90" height="73.80" fill="#6a6a6a" stroke="#1e1e1e" stroke-width="1.0"/>
<rect x="347.55" y="408.00" width="12.90" height="65.60" fill="#ffffff" stroke="#b84850" stroke-width="1.0"/>
<rect x="389.35" y="408.80" width="12.90" height="64.80" fill="#fd0000" stroke="#b01818" stroke-width="1.0"/>
<circle cx="270.00" cy="403.00" r="1.35" fill="#8a8a8a"/>
<circle cx="270.50" cy="410.00" r="1.35" fill="#8a8a8a"/>
<circle cx="271.00" cy="414.00" r="1.35" fill="#8a8a8a"/>
<line x1="270.50" y1="401.00" x2="270.50" y2="416.00" stroke="#111" stroke-width="1.2"/>
<line x1="268.80" y1="401.00" x2="272.20" y2="401.00" stroke="#111" stroke-width="1.0"/>
<line x1="268.80" y1="416.00" x2="272.20" y2="416.00" stroke="#111" stroke-width="1.0"/>
<circle cx="311.70" cy="385.00" r="1.35" fill="#8a8a8a"/>
<circle cx="312.20" cy="395.00" r="1.35" fill="#8a8a8a"/>
<circle cx="312.70" cy="405.00" r="1.35" fill="#8a8a8a"/>
<circle cx="311.70" cy="420.00" r="1.35" fill="#8a8a8a"/>
<line x1="312.20" y1="386.80" x2="312.20" y2="410.00" stroke="#111" stroke-width="1.2"/>
<line x1="310.50" y1="386.80" x2="313.90" y2="386.80" stroke="#111" stroke-width="1.0"/>
<line x1="310.50" y1="410.00" x2="313.90" y2="410.00" stroke="#111" stroke-width="1.0"/>
<circle cx="353.50" cy="402.00" r="1.35" fill="#8a8a8a"/>
<circle cx="354.00" cy="410.00" r="1.35" fill="#8a8a8a"/>
<circle cx="354.50" cy="419.00" r="1.35" fill="#8a8a8a"/>
<line x1="354.00" y1="400.50" x2="354.00" y2="413.00" stroke="#111" stroke-width="1.2"/>
<line x1="352.30" y1="400.50" x2="355.70" y2="400.50" stroke="#111" stroke-width="1.0"/>
<line x1="352.30" y1="413.00" x2="355.70" y2="413.00" stroke="#111" stroke-width="1.0"/>
<circle cx="395.30" cy="387.00" r="1.35" fill="#8a8a8a"/>
<circle cx="395.80" cy="404.00" r="1.35" fill="#8a8a8a"/>
<circle cx="396.30" cy="412.00" r="1.35" fill="#8a8a8a"/>
<line x1="395.80" y1="400.00" x2="395.80" y2="418.80" stroke="#111" stroke-width="1.2"/>
<line x1="394.10" y1="400.00" x2="397.50" y2="400.00" stroke="#111" stroke-width="1.0"/>
<line x1="394.10" y1="418.80" x2="397.50" y2="418.80" stroke="#111" stroke-width="1.0"/>
<line x1="256.60" y1="380.00" x2="256.60" y2="474.20" stroke="#3a3a3a" stroke-width="1.4"/>
<line x1="256.00" y1="473.60" x2="409.40" y2="473.60" stroke="#3a3a3a" stroke-width="1.4"/>
<line x1="254.00" y1="473.60" x2="256.60" y2="473.60" stroke="#2a2a2a" stroke-width="0.9"/>
<text x="230.20" y="475.55" font-size="5.9" font-weight="bold" text-anchor="start" fill="#151515" textLength="21.80" lengthAdjust="spacingAndGlyphs" stroke="#151515" stroke-width="0.2">0.00000</text>
<line x1="254.00" y1="462.30" x2="256.60" y2="462.30" stroke="#2a2a2a" stroke-width="0.9"/>
<text x="230.20" y="464.25" font-size="5.9" font-weight="bold" text-anchor="start" fill="#151515" textLength="21.80" lengthAdjust="spacingAndGlyphs" stroke="#151515" stroke-width="0.2">0.00025</text>
<line x1="254.00" y1="451.00" x2="256.60" y2="451.00" stroke="#2a2a2a" stroke-width="0.9"/>
<text x="230.20" y="452.95" font-size="5.9" font-weight="bold" text-anchor="start" fill="#151515" textLength="21.80" lengthAdjust="spacingAndGlyphs" stroke="#151515" stroke-width="0.2">0.00050</text>
<line x1="254.00" y1="439.70" x2="256.60" y2="439.70" stroke="#2a2a2a" stroke-width="0.9"/>
<text x="230.20" y="441.65" font-size="5.9" font-weight="bold" text-anchor="start" fill="#151515" textLength="21.80" lengthAdjust="spacingAndGlyphs" stroke="#151515" stroke-width="0.2">0.00075</text>
<line x1="254.00" y1="428.40" x2="256.60" y2="428.40" stroke="#2a2a2a" stroke-width="0.9"/>
<text x="230.20" y="430.35" font-size="5.9" font-weight="bold" text-anchor="start" fill="#151515" textLength="21.80" lengthAdjust="spacingAndGlyphs" stroke="#151515" stroke-width="0.2">0.00100</text>
<line x1="254.00" y1="417.10" x2="256.60" y2="417.10" stroke="#2a2a2a" stroke-width="0.9"/>
<text x="230.20" y="419.05" font-size="5.9" font-weight="bold" text-anchor="start" fill="#151515" textLength="21.80" lengthAdjust="spacingAndGlyphs" stroke="#151515" stroke-width="0.2">0.00125</text>
<line x1="254.00" y1="405.80" x2="256.60" y2="405.80" stroke="#2a2a2a" stroke-width="0.9"/>
<text x="230.20" y="407.75" font-size="5.9" font-weight="bold" text-anchor="start" fill="#151515" textLength="21.80" lengthAdjust="spacingAndGlyphs" stroke="#151515" stroke-width="0.2">0.00150</text>
<line x1="254.00" y1="394.50" x2="256.60" y2="394.50" stroke="#2a2a2a" stroke-width="0.9"/>
<text x="230.20" y="396.45" font-size="5.9" font-weight="bold" text-anchor="start" fill="#151515" textLength="21.80" lengthAdjust="spacingAndGlyphs" stroke="#151515" stroke-width="0.2">0.00175</text>
<line x1="254.00" y1="383.20" x2="256.60" y2="383.20" stroke="#2a2a2a" stroke-width="0.9"/>
<text x="230.20" y="385.15" font-size="5.9" font-weight="bold" text-anchor="start" fill="#151515" textLength="21.80" lengthAdjust="spacingAndGlyphs" stroke="#151515" stroke-width="0.2">0.00200</text>
<line x1="270.50" y1="473.60" x2="270.50" y2="475.90" stroke="#2a2a2a" stroke-width="0.9"/>
<text x="256.78" y="481.20" font-size="5.635" font-weight="bold" text-anchor="start" fill="#151515" textLength="27.43" lengthAdjust="spacingAndGlyphs" stroke="#151515" stroke-width="0.35">CTL Males</text>
<line x1="312.20" y1="473.60" x2="312.20" y2="475.90" stroke="#2a2a2a" stroke-width="0.9"/>
<text x="297.99" y="481.20" font-size="5.635" font-weight="bold" text-anchor="start" fill="#151515" textLength="28.43" lengthAdjust="spacingAndGlyphs" stroke="#151515" stroke-width="0.35">HFD Males</text>
<line x1="354.00" y1="473.60" x2="354.00" y2="475.90" stroke="#2a2a2a" stroke-width="0.9"/>
<text x="336.56" y="481.20" font-size="5.635" font-weight="bold" text-anchor="start" fill="#151515" textLength="34.89" lengthAdjust="spacingAndGlyphs" stroke="#151515" stroke-width="0.35">CTL Females</text>
<line x1="395.80" y1="473.60" x2="395.80" y2="475.90" stroke="#2a2a2a" stroke-width="0.9"/>
<text x="377.87" y="481.20" font-size="5.635" font-weight="bold" text-anchor="start" fill="#151515" textLength="35.87" lengthAdjust="spacingAndGlyphs" stroke="#151515" stroke-width="0.35">HFD Females</text>
<text x="321.50" y="488.90" font-size="6.5" font-weight="bold" text-anchor="start" fill="#151515" textLength="22.20" lengthAdjust="spacingAndGlyphs" stroke="#151515" stroke-width="0.35">Groups</text>
<text x="0.00" y="0.00" font-size="5.88" font-weight="bold" text-anchor="middle" fill="#151515" textLength="64.71" lengthAdjust="spacingAndGlyphs" stroke="#151515" stroke-width="0.25" transform="translate(227.00,426.30) rotate(-90)">Relative Abundance</text>
<line x1="269.00" y1="379.40" x2="311.40" y2="379.40" stroke="#111" stroke-width="1.3"/>
<text x="282.10" y="377.90" font-size="9.0" font-weight="bold" text-anchor="start" fill="#111" textLength="16.21" lengthAdjust="spacingAndGlyphs" stroke="#111" stroke-width="0.3">0.05</text>
<line x1="312.40" y1="371.50" x2="398.50" y2="371.50" stroke="#111" stroke-width="1.3"/>
<line x1="312.40" y1="367.50" x2="312.40" y2="375.50" stroke="#111" stroke-width="1.2"/>
<line x1="398.50" y1="367.50" x2="398.50" y2="375.50" stroke="#111" stroke-width="1.2"/>
<text x="353.15" y="371.00" font-size="8.6" font-weight="bold" text-anchor="start" fill="#111" textLength="4.61" lengthAdjust="spacingAndGlyphs" stroke="#111" stroke-width="0.1">#</text>
<text x="308.90" y="357.50" font-size="11.6" font-weight="bold" text-anchor="start" fill="#0a0a0a" textLength="50.29" lengthAdjust="spacingAndGlyphs" stroke="#0a0a0a" stroke-width="0.15">Methanol</text>
<text x="222.30" y="354.50" font-size="15" font-weight="bold" text-anchor="start" fill="#0a0a0a" stroke="#0a0a0a" stroke-width="0.35">(f)</text>
<rect x="48.95" y="597.60" width="13.30" height="62.60" fill="#ffffff" stroke="#1a1a1a" stroke-width="1.0"/>
<rect x="92.65" y="608.00" width="13.30" height="52.20" fill="#6a6a6a" stroke="#1e1e1e" stroke-width="1.0"/>
<rect x="136.65" y="590.80" width="13.30" height="69.40" fill="#ffffff" stroke="#b84850" stroke-width="1.0"/>
<rect x="180.55" y="603.90" width="13.30" height="56.30" fill="#fd0000" stroke="#b01818" stroke-width="1.0"/>
<circle cx="55.10" cy="585.00" r="1.35" fill="#8a8a8a"/>
<circle cx="55.60" cy="592.00" r="1.35" fill="#8a8a8a"/>
<circle cx="56.10" cy="600.00" r="1.35" fill="#8a8a8a"/>
<circle cx="55.10" cy="613.00" r="1.35" fill="#8a8a8a"/>
<line x1="55.60" y1="589.00" x2="55.60" y2="605.50" stroke="#111" stroke-width="1.2"/>
<line x1="53.90" y1="589.00" x2="57.30" y2="589.00" stroke="#111" stroke-width="1.0"/>
<line x1="53.90" y1="605.50" x2="57.30" y2="605.50" stroke="#111" stroke-width="1.0"/>
<circle cx="98.80" cy="602.00" r="1.35" fill="#8a8a8a"/>
<circle cx="99.30" cy="606.00" r="1.35" fill="#8a8a8a"/>
<circle cx="99.80" cy="620.00" r="1.35" fill="#8a8a8a"/>
<line x1="99.30" y1="601.60" x2="99.30" y2="614.00" stroke="#111" stroke-width="1.2"/>
<line x1="97.60" y1="601.60" x2="101.00" y2="601.60" stroke="#111" stroke-width="1.0"/>
<line x1="97.60" y1="614.00" x2="101.00" y2="614.00" stroke="#111" stroke-width="1.0"/>
<circle cx="142.80" cy="571.00" r="1.35" fill="#8a8a8a"/>
<circle cx="143.30" cy="585.00" r="1.35" fill="#8a8a8a"/>
<circle cx="143.80" cy="592.00" r="1.35" fill="#8a8a8a"/>
<circle cx="142.80" cy="600.00" r="1.35" fill="#8a8a8a"/>
<line x1="143.30" y1="580.60" x2="143.30" y2="601.00" stroke="#111" stroke-width="1.2"/>
<line x1="141.60" y1="580.60" x2="145.00" y2="580.60" stroke="#111" stroke-width="1.0"/>
<line x1="141.60" y1="601.00" x2="145.00" y2="601.00" stroke="#111" stroke-width="1.0"/>
<circle cx="186.70" cy="596.00" r="1.35" fill="#8a8a8a"/>
<circle cx="187.20" cy="604.00" r="1.35" fill="#8a8a8a"/>
<circle cx="187.70" cy="609.00" r="1.35" fill="#8a8a8a"/>
<line x1="187.20" y1="596.50" x2="187.20" y2="610.00" stroke="#111" stroke-width="1.2"/>
<line x1="185.50" y1="596.50" x2="188.90" y2="596.50" stroke="#111" stroke-width="1.0"/>
<line x1="185.50" y1="610.00" x2="188.90" y2="610.00" stroke="#111" stroke-width="1.0"/>
<line x1="41.40" y1="566.40" x2="41.40" y2="660.80" stroke="#3a3a3a" stroke-width="1.4"/>
<line x1="40.80" y1="660.20" x2="201.70" y2="660.20" stroke="#3a3a3a" stroke-width="1.4"/>
<line x1="38.80" y1="660.20" x2="41.40" y2="660.20" stroke="#2a2a2a" stroke-width="0.9"/>
<text x="21.80" y="662.15" font-size="5.9" font-weight="bold" text-anchor="start" fill="#151515" textLength="14.99" lengthAdjust="spacingAndGlyphs" stroke="#151515" stroke-width="0.2">0.000</text>
<line x1="38.80" y1="647.64" x2="41.40" y2="647.64" stroke="#2a2a2a" stroke-width="0.9"/>
<text x="21.80" y="649.59" font-size="5.9" font-weight="bold" text-anchor="start" fill="#151515" textLength="14.99" lengthAdjust="spacingAndGlyphs" stroke="#151515" stroke-width="0.2">0.001</text>
<line x1="38.80" y1="635.08" x2="41.40" y2="635.08" stroke="#2a2a2a" stroke-width="0.9"/>
<text x="21.80" y="637.03" font-size="5.9" font-weight="bold" text-anchor="start" fill="#151515" textLength="14.99" lengthAdjust="spacingAndGlyphs" stroke="#151515" stroke-width="0.2">0.002</text>
<line x1="38.80" y1="622.52" x2="41.40" y2="622.52" stroke="#2a2a2a" stroke-width="0.9"/>
<text x="21.80" y="624.47" font-size="5.9" font-weight="bold" text-anchor="start" fill="#151515" textLength="14.99" lengthAdjust="spacingAndGlyphs" stroke="#151515" stroke-width="0.2">0.003</text>
<line x1="38.80" y1="609.96" x2="41.40" y2="609.96" stroke="#2a2a2a" stroke-width="0.9"/>
<text x="21.80" y="611.91" font-size="5.9" font-weight="bold" text-anchor="start" fill="#151515" textLength="14.99" lengthAdjust="spacingAndGlyphs" stroke="#151515" stroke-width="0.2">0.004</text>
<line x1="38.80" y1="597.40" x2="41.40" y2="597.40" stroke="#2a2a2a" stroke-width="0.9"/>
<text x="21.80" y="599.35" font-size="5.9" font-weight="bold" text-anchor="start" fill="#151515" textLength="14.99" lengthAdjust="spacingAndGlyphs" stroke="#151515" stroke-width="0.2">0.005</text>
<line x1="38.80" y1="584.84" x2="41.40" y2="584.84" stroke="#2a2a2a" stroke-width="0.9"/>
<text x="21.80" y="586.79" font-size="5.9" font-weight="bold" text-anchor="start" fill="#151515" textLength="14.99" lengthAdjust="spacingAndGlyphs" stroke="#151515" stroke-width="0.2">0.006</text>
<line x1="38.80" y1="572.28" x2="41.40" y2="572.28" stroke="#2a2a2a" stroke-width="0.9"/>
<text x="21.80" y="574.23" font-size="5.9" font-weight="bold" text-anchor="start" fill="#151515" textLength="14.99" lengthAdjust="spacingAndGlyphs" stroke="#151515" stroke-width="0.2">0.007</text>
<line x1="55.60" y1="660.20" x2="55.60" y2="662.50" stroke="#2a2a2a" stroke-width="0.9"/>
<text x="41.60" y="667.70" font-size="5.75" font-weight="bold" text-anchor="start" fill="#151515" textLength="27.99" lengthAdjust="spacingAndGlyphs" stroke="#151515" stroke-width="0.35">CTL Males</text>
<line x1="99.30" y1="660.20" x2="99.30" y2="662.50" stroke="#2a2a2a" stroke-width="0.9"/>
<text x="84.80" y="667.70" font-size="5.75" font-weight="bold" text-anchor="start" fill="#151515" textLength="29.01" lengthAdjust="spacingAndGlyphs" stroke="#151515" stroke-width="0.35">HFD Males</text>
<line x1="143.30" y1="660.20" x2="143.30" y2="662.50" stroke="#2a2a2a" stroke-width="0.9"/>
<text x="125.50" y="667.70" font-size="5.75" font-weight="bold" text-anchor="start" fill="#151515" textLength="35.61" lengthAdjust="spacingAndGlyphs" stroke="#151515" stroke-width="0.35">CTL Females</text>
<line x1="187.20" y1="660.20" x2="187.20" y2="662.50" stroke="#2a2a2a" stroke-width="0.9"/>
<text x="168.90" y="667.70" font-size="5.75" font-weight="bold" text-anchor="start" fill="#151515" textLength="36.60" lengthAdjust="spacingAndGlyphs" stroke="#151515" stroke-width="0.35">HFD Females</text>
<text x="109.70" y="675.90" font-size="6.5" font-weight="bold" text-anchor="start" fill="#151515" textLength="23.00" lengthAdjust="spacingAndGlyphs" stroke="#151515" stroke-width="0.35">Groups</text>
<text x="0.00" y="0.00" font-size="5.92" font-weight="bold" text-anchor="middle" fill="#151515" textLength="65.11" lengthAdjust="spacingAndGlyphs" stroke="#151515" stroke-width="0.25" transform="translate(18.10,613.35) rotate(-90)">Relative Abundance</text>
<line x1="56.40" y1="578.20" x2="98.60" y2="578.20" stroke="#111" stroke-width="1.3"/>
<line x1="56.40" y1="574.20" x2="56.40" y2="582.20" stroke="#111" stroke-width="1.2"/>
<line x1="98.60" y1="574.20" x2="98.60" y2="582.20" stroke="#111" stroke-width="1.2"/>
<circle cx="76.58" cy="573.30" r="1.55" fill="#111"/>
<circle cx="81.23" cy="573.30" r="1.55" fill="#111"/>
<line x1="143.50" y1="562.40" x2="185.70" y2="562.40" stroke="#111" stroke-width="1.3"/>
<line x1="143.50" y1="558.40" x2="143.50" y2="566.40" stroke="#111" stroke-width="1.2"/>
<line x1="185.70" y1="558.40" x2="185.70" y2="566.40" stroke="#111" stroke-width="1.2"/>
<circle cx="163.68" cy="557.50" r="1.55" fill="#111"/>
<circle cx="168.32" cy="557.50" r="1.55" fill="#111"/>
<text x="101.20" y="545.50" font-size="11.6" font-weight="bold" text-anchor="start" fill="#0a0a0a" textLength="41.82" lengthAdjust="spacingAndGlyphs" stroke="#0a0a0a" stroke-width="0.15">Ethanol</text>
<text x="5.00" y="534.70" font-size="15" font-weight="bold" text-anchor="start" fill="#0a0a0a" stroke="#0a0a0a" stroke-width="0.35">(g)</text>
<text x="439.10" y="45.50" font-size="9.4" font-weight="bold" text-anchor="start" fill="#0a0a0a" textLength="38.19" lengthAdjust="spacingAndGlyphs" stroke="#0a0a0a" stroke-width="0.15">Legend:</text>
<line x1="439.10" y1="47.70" x2="477.80" y2="47.70" stroke="#0a0a0a" stroke-width="1.0"/>
<rect x="440.00" y="53.10" width="13.40" height="8.60" fill="#ffffff" stroke="#111" stroke-width="1.3"/>
<text x="460.00" y="60.90" font-size="9.1" font-weight="bold" text-anchor="start" fill="#0a0a0a" textLength="45.18" lengthAdjust="spacingAndGlyphs" stroke="#0a0a0a" stroke-width="0.15">CTL Males</text>
<rect x="440.00" y="67.70" width="13.40" height="8.60" fill="#686868" stroke="#111" stroke-width="1.3"/>
<text x="460.00" y="75.70" font-size="9.1" font-weight="bold" text-anchor="start" fill="#0a0a0a" textLength="46.42" lengthAdjust="spacingAndGlyphs" stroke="#0a0a0a" stroke-width="0.15">HFD Males</text>
<rect x="440.00" y="82.30" width="13.40" height="8.60" fill="#ffffff" stroke="#cc3030" stroke-width="1.3"/>
<text x="460.00" y="90.50" font-size="9.1" font-weight="bold" text-anchor="start" fill="#0a0a0a" textLength="56.51" lengthAdjust="spacingAndGlyphs" stroke="#0a0a0a" stroke-width="0.15">CTL Females</text>
<rect x="440.00" y="96.90" width="13.40" height="8.60" fill="#fd0000" stroke="#c80000" stroke-width="1.3"/>
<text x="460.00" y="105.30" font-size="9.1" font-weight="bold" text-anchor="start" fill="#0a0a0a" textLength="57.50" lengthAdjust="spacingAndGlyphs" stroke="#0a0a0a" stroke-width="0.15">HFD Females</text>
<text x="221.00" y="534.20" font-size="15" font-weight="bold" text-anchor="start" fill="#0a0a0a" stroke="#0a0a0a" stroke-width="0.35">(h)</text>
<rect x="268.95" y="530.85" width="73.10" height="20.90" fill="#b3e8f0" stroke="#80d0de" stroke-width="1.5" rx="2.8"/>
<text x="271.50" y="543.70" font-size="10.0" font-weight="bold" text-anchor="start" fill="#0a0a0a" textLength="67.00" lengthAdjust="spacingAndGlyphs" stroke="#0a0a0a" stroke-width="0.3">Phenylalanine</text>
<line x1="345.70" y1="541.10" x2="368.70" y2="541.10" stroke="#0a0a0a" stroke-width="1.6"/>
<path d="M372.70,541.10 L367.10,538.20 L367.10,544.00 Z" fill="#0a0a0a"/>
<rect x="378.15" y="531.45" width="106.80" height="19.10" fill="#d3f2f8" stroke="#8fd3e0" stroke-width="1.5" rx="2.8"/>
<text x="386.60" y="544.90" font-size="10.0" font-weight="bold" text-anchor="start" fill="#0a0a0a" textLength="93.80" lengthAdjust="spacingAndGlyphs" stroke="#0a0a0a" stroke-width="0.3">3-Phenylpropionate</text>
<path d="M283.8,560 L283.8,571 Q283.8,581.1 294,581.1 L311,581.1" fill="none" stroke="#0a0a0a" stroke-width="1.7"/>
<path d="M283.8,555.8 L280.9,561.6 L286.7,561.6 Z" fill="#0a0a0a"/>
<path d="M315.8,581.1 L310,578.2 L310,584.0 Z" fill="#0a0a0a"/>
<text x="320.00" y="583.90" font-size="10.0" font-weight="bold" text-anchor="start" fill="#0a0a0a" textLength="66.81" lengthAdjust="spacingAndGlyphs" stroke="#0a0a0a" stroke-width="0.3">Phenylacetate</text>
<line x1="388.60" y1="581.10" x2="411.50" y2="581.10" stroke="#0a0a0a" stroke-width="1.6"/>
<path d="M415.50,581.10 L409.90,578.20 L409.90,584.00 Z" fill="#0a0a0a"/>
<rect x="421.25" y="569.05" width="124.50" height="19.70" fill="#d3f2f8" stroke="#8fd3e0" stroke-width="1.5" rx="2.8"/>
<text x="429.00" y="583.20" font-size="10.0" font-weight="bold" text-anchor="start" fill="#0a0a0a" textLength="113.99" lengthAdjust="spacingAndGlyphs" stroke="#0a0a0a" stroke-width="0.3">3-hydroxyphenylacetate</text>
<text x="321.60" y="612.10" font-size="9.2" font-weight="normal" text-anchor="start" fill="#0d0d0d" textLength="85.58" lengthAdjust="spacingAndGlyphs" font-style="italic" stroke="#0d0d0d" stroke-width="0.22">Methane metabolism</text>
<rect x="269.45" y="619.65" width="72.10" height="19.60" fill="#cccccc" stroke="#7d7d7d" stroke-width="1.5" rx="2.8"/>
<text x="285.60" y="632.20" font-size="10.0" font-weight="bold" text-anchor="start" fill="#0a0a0a" textLength="39.51" lengthAdjust="spacingAndGlyphs" stroke="#0a0a0a" stroke-width="0.3">Methane</text>
<line x1="346.40" y1="629.90" x2="368.90" y2="629.90" stroke="#0a0a0a" stroke-width="1.6"/>
<path d="M372.90,629.90 L367.30,627.00 L367.30,632.80 Z" fill="#0a0a0a"/>
<rect x="378.75" y="619.75" width="56.70" height="20.80" fill="#f9c3a2" stroke="#e58e5c" stroke-width="1.5" rx="2.8"/>
<text x="384.50" y="634.00" font-size="10.0" font-weight="bold" text-anchor="start" fill="#0a0a0a" textLength="43.99" lengthAdjust="spacingAndGlyphs" stroke="#0a0a0a" stroke-width="0.3">Methanol</text>
<text x="312.40" y="664.80" font-size="9.2" font-weight="normal" text-anchor="start" fill="#0d0d0d" textLength="90.08" lengthAdjust="spacingAndGlyphs" font-style="italic" stroke="#0d0d0d" stroke-width="0.22">Pyruvate fermentation</text>
<rect x="269.45" y="671.95" width="72.10" height="19.80" fill="#c8e6b8" stroke="#79bd5c" stroke-width="1.5" rx="2.8"/>
<text x="284.70" y="684.60" font-size="10.0" font-weight="bold" text-anchor="start" fill="#0a0a0a" textLength="41.60" lengthAdjust="spacingAndGlyphs" stroke="#0a0a0a" stroke-width="0.3">Pyruvate</text>
<line x1="350.70" y1="681.70" x2="368.90" y2="681.70" stroke="#0a0a0a" stroke-width="1.6"/>
<path d="M372.90,681.70 L367.30,678.80 L367.30,684.60 Z" fill="#0a0a0a"/>
<path d="M346.70,681.70 L352.30,678.80 L352.30,684.60 Z" fill="#0a0a0a"/>
<rect x="378.35" y="672.55" width="47.30" height="20.30" fill="#f9c3a2" stroke="#e58e5c" stroke-width="1.5" rx="2.8"/>
<text x="383.80" y="686.70" font-size="10.0" font-weight="bold" text-anchor="start" fill="#0a0a0a" textLength="36.42" lengthAdjust="spacingAndGlyphs" stroke="#0a0a0a" stroke-width="0.3">Ethanol</text>
</g>
</svg></body></html>
